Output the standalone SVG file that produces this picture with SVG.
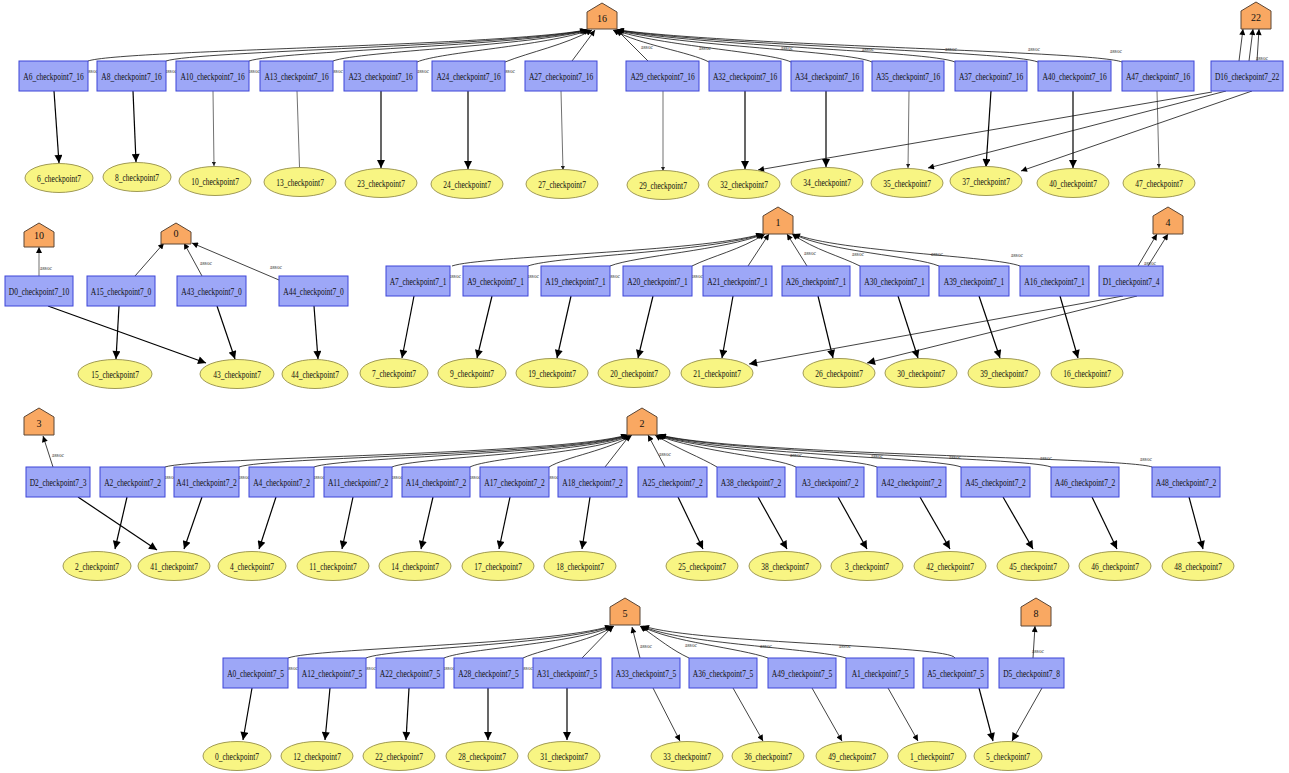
<svg xmlns="http://www.w3.org/2000/svg" width="1289" height="773" viewBox="0 0 1289 773">
<style>
.box{fill:#9DA7F7;stroke:#3C44D8;stroke-width:1}
.ell{fill:#F8F583;stroke:#A09A55;stroke-width:1}
.pent{fill:#F9A862;stroke:#5B4636;stroke-width:1}
text{font-family:"Liberation Serif","Times New Roman",serif;fill:#111;text-anchor:middle}
.l{font-size:11px;transform-box:fill-box;transform-origin:center;transform:scaleX(0.68)}
.p{font-size:10px}
.as{font-size:5.5px;fill:#333}
.e{fill:none;stroke:#000;stroke-width:1.2}
.t{fill:none;stroke:#333;stroke-width:0.7}
.u{fill:none;stroke:#111;stroke-width:0.8}
</style>
<defs>
<marker id="big" viewBox="0 0 10 10" refX="10" refY="5" markerUnits="userSpaceOnUse" markerWidth="9" markerHeight="8" orient="auto"><path d="M0,0 L10,5 L0,10 z" fill="#000"/></marker>
<marker id="sm" viewBox="0 0 10 10" refX="10" refY="5" markerUnits="userSpaceOnUse" markerWidth="4" markerHeight="4" orient="auto"><path d="M0,0 L10,5 L0,10 z" fill="#222"/></marker>
<marker id="up" viewBox="0 0 10 10" refX="10" refY="5" markerUnits="userSpaceOnUse" markerWidth="7" markerHeight="6" orient="auto"><path d="M0,0 L10,5 L0,10 z" fill="#000"/></marker>
</defs>
<rect width="1289" height="773" fill="#fff"/>

<g id="connectors">
<path class="u" marker-end="url(#up)" d="M88,61 C120,50 500,46 586,30"/>
<path class="u" marker-end="url(#up)" d="M166,61 C196,51 510,46 587,30"/>
<path class="u" marker-end="url(#up)" d="M249,61 C278,51 520,46 588,30"/>
<path class="u" marker-end="url(#up)" d="M333,61 C360,51 530,46 589,30"/>
<path class="u" marker-end="url(#up)" d="M417,62 C440,52 545,46 590,30"/>
<path class="u" marker-end="url(#up)" d="M505,62 C530,52 565,45 592,30"/>
<path class="u" marker-end="url(#up)" d="M572,61 L595,30"/>
<path class="u" marker-end="url(#up)" d="M648,61 L617,30"/>
<path class="u" marker-end="url(#up)" d="M709,62 C690,52 640,45 613,30"/>
<path class="u" marker-end="url(#up)" d="M791,62 C770,52 660,46 614,30"/>
<path class="u" marker-end="url(#up)" d="M872,62 C850,51 680,46 615,30"/>
<path class="u" marker-end="url(#up)" d="M955,62 C930,51 700,46 616,30"/>
<path class="u" marker-end="url(#up)" d="M1038,62 C1010,51 720,46 617,30"/>
<path class="u" marker-end="url(#up)" d="M1122,62 C1095,51 740,46 618,30"/>
<path class="u" marker-end="url(#up)" d="M1239,61 L1243,29"/>
<path class="u" marker-end="url(#up)" d="M1249,61 L1253,29"/>
<path class="u" marker-end="url(#up)" d="M1257,61 L1259,29"/>
<path class="e" marker-end="url(#big)" d="M54,91 L59,163"/>
<path class="e" marker-end="url(#big)" d="M133,91 L136,162"/>
<path class="t" marker-end="url(#sm)" d="M213,91 L214,166"/>
<path class="t" marker-end="url(#sm)" d="M297,91 L300,182"/>
<path class="e" marker-end="url(#big)" d="M381,91 L381,168"/>
<path class="e" marker-end="url(#big)" d="M468,91 L468,169"/>
<path class="t" marker-end="url(#sm)" d="M561,91 L563,170"/>
<path class="t" marker-end="url(#sm)" d="M663,91 L663,171"/>
<path class="e" marker-end="url(#big)" d="M745,91 L745,169"/>
<path class="e" marker-end="url(#big)" d="M826,91 L826,167"/>
<path class="t" marker-end="url(#sm)" d="M909,91 L908,168"/>
<path class="e" marker-end="url(#big)" d="M991,91 L986,167"/>
<path class="e" marker-end="url(#big)" d="M1073,91 L1073,168"/>
<path class="t" marker-end="url(#sm)" d="M1157,91 L1159,168"/>
<path class="u" marker-end="url(#up)" d="M1212,92 L758,170"/>
<path class="u" marker-end="url(#up)" d="M1226,91 L928,168"/>
<path class="u" marker-end="url(#up)" d="M1252,91 L1021,171"/>
<path class="u" style="stroke:#888;stroke-width:1.2" marker-end="url(#up)" d="M39,276 L39,247"/>
<path class="e" marker-end="url(#big)" d="M48,306 L206,363"/>
<path class="u" marker-end="url(#up)" d="M135,276 L164,243"/>
<path class="e" marker-end="url(#big)" d="M119,306 L116,359"/>
<path class="u" marker-end="url(#up)" d="M202,276 L184,243"/>
<path class="e" marker-end="url(#big)" d="M217,306 L235,359"/>
<path class="u" marker-end="url(#up)" d="M279,280 L192,243"/>
<path class="e" marker-end="url(#big)" d="M314,306 L318,359"/>
<path class="u" marker-end="url(#up)" d="M452,266 C480,256 700,252 762,234"/>
<path class="u" marker-end="url(#up)" d="M528,266 C555,256 710,252 763,234"/>
<path class="u" marker-end="url(#up)" d="M610,266 C635,256 725,250 764,234"/>
<path class="u" marker-end="url(#up)" d="M692,266 C712,256 740,250 765,234"/>
<path class="u" marker-end="url(#up)" d="M748,266 L769,234"/>
<path class="u" marker-end="url(#up)" d="M807,266 L787,234"/>
<path class="u" marker-end="url(#up)" d="M860,266 C840,256 815,250 792,234"/>
<path class="u" marker-end="url(#up)" d="M939,266 C915,256 830,252 793,234"/>
<path class="u" marker-end="url(#up)" d="M1020,266 C995,256 840,252 794,234"/>
<path class="u" marker-end="url(#up)" d="M1138,266 L1157,234"/>
<path class="u" marker-end="url(#up)" d="M1148,266 L1168,234"/>
<path class="e" marker-end="url(#big)" d="M414,296 L402,358"/>
<path class="e" marker-end="url(#big)" d="M492,296 L477,358"/>
<path class="e" marker-end="url(#big)" d="M571,296 L557,358"/>
<path class="e" marker-end="url(#big)" d="M653,296 L638,358"/>
<path class="e" marker-end="url(#big)" d="M733,296 L722,358"/>
<path class="e" marker-end="url(#big)" d="M818,296 L833,358"/>
<path class="e" marker-end="url(#big)" d="M898,296 L918,358"/>
<path class="e" marker-end="url(#big)" d="M979,296 L1000,358"/>
<path class="e" marker-end="url(#big)" d="M1060,296 L1078,358"/>
<path class="u" marker-end="url(#big)" d="M1123,296 L749,364"/>
<path class="u" marker-end="url(#big)" d="M1137,296 L867,363"/>
<path class="u" marker-end="url(#up)" d="M53,467 L43,436"/>
<path class="e" marker-end="url(#big)" d="M78,497 L157,550"/>
<path class="u" marker-end="url(#up)" d="M165,467 C195,457 560,455 627,435"/>
<path class="u" marker-end="url(#up)" d="M239,467 C265,457 570,455 628,435"/>
<path class="u" marker-end="url(#up)" d="M314,467 C340,457 580,454 629,435"/>
<path class="u" marker-end="url(#up)" d="M392,467 C415,457 590,453 630,435"/>
<path class="u" marker-end="url(#up)" d="M470,467 C490,457 600,452 631,435"/>
<path class="u" marker-end="url(#up)" d="M549,467 C565,457 610,450 632,435"/>
<path class="u" marker-end="url(#up)" d="M605,467 L630,435"/>
<path class="u" marker-end="url(#up)" d="M665,467 L648,435"/>
<path class="u" marker-end="url(#up)" d="M717,467 C700,457 680,450 655,435"/>
<path class="u" marker-end="url(#up)" d="M796,467 C775,457 700,452 656,435"/>
<path class="u" marker-end="url(#up)" d="M877,467 C850,457 710,453 657,435"/>
<path class="u" marker-end="url(#up)" d="M961,467 C935,457 720,454 658,435"/>
<path class="u" marker-end="url(#up)" d="M1051,467 C1025,457 730,454 659,435"/>
<path class="u" marker-end="url(#up)" d="M1152,467 C1125,457 740,455 660,435"/>
<path class="e" marker-end="url(#big)" d="M127,497 L115,549"/>
<path class="e" marker-end="url(#big)" d="M202,497 L184,549"/>
<path class="e" marker-end="url(#big)" d="M276,497 L259,549"/>
<path class="e" marker-end="url(#big)" d="M353,497 L342,549"/>
<path class="e" marker-end="url(#big)" d="M433,497 L421,549"/>
<path class="e" marker-end="url(#big)" d="M510,497 L499,549"/>
<path class="e" marker-end="url(#big)" d="M590,497 L582,549"/>
<path class="e" marker-end="url(#big)" d="M678,497 L703,549"/>
<path class="e" marker-end="url(#big)" d="M758,497 L787,549"/>
<path class="e" marker-end="url(#big)" d="M838,497 L867,549"/>
<path class="e" marker-end="url(#big)" d="M920,497 L950,549"/>
<path class="e" marker-end="url(#big)" d="M1003,497 L1033,549"/>
<path class="e" marker-end="url(#big)" d="M1092,497 L1117,549"/>
<path class="e" marker-end="url(#big)" d="M1189,497 L1203,549"/>
<path class="u" marker-end="url(#up)" d="M288,658 C315,648 550,645 611,626"/>
<path class="u" marker-end="url(#up)" d="M366,658 C390,648 560,645 612,626"/>
<path class="u" marker-end="url(#up)" d="M444,658 C468,648 575,644 613,626"/>
<path class="u" marker-end="url(#up)" d="M523,658 C545,648 590,642 614,626"/>
<path class="u" marker-end="url(#up)" d="M582,658 L613,626"/>
<path class="u" marker-end="url(#up)" d="M640,658 L632,627"/>
<path class="u" marker-end="url(#up)" d="M689,658 C672,650 660,640 640,626"/>
<path class="u" marker-end="url(#up)" d="M768,658 C740,648 670,642 641,626"/>
<path class="u" marker-end="url(#up)" d="M846,658 C815,648 680,644 642,626"/>
<path class="u" marker-end="url(#up)" d="M955,658 C950,645 700,644 643,626"/>
<path class="u" marker-end="url(#up)" d="M1033,658 L1035,626"/>
<path class="e" marker-end="url(#big)" d="M252,688 L243,740"/>
<path class="e" marker-end="url(#big)" d="M330,688 L325,740"/>
<path class="e" marker-end="url(#big)" d="M409,688 L406,740"/>
<path class="e" marker-end="url(#big)" d="M488,688 L488,740"/>
<path class="e" marker-end="url(#big)" d="M567,688 L567,740"/>
<path class="u" marker-end="url(#up)" d="M653,688 L680,741"/>
<path class="u" marker-end="url(#up)" d="M733,688 L763,741"/>
<path class="u" marker-end="url(#up)" d="M812,688 L842,741"/>
<path class="u" marker-end="url(#up)" d="M888,688 L918,741"/>
<path class="e" marker-end="url(#big)" d="M979,688 L993,741"/>
<path class="u" marker-end="url(#big)" d="M1042,688 L1012,741"/>
<g class="lbls">
<text class="as" x="92" y="73">assoc</text><text class="as" x="171" y="73">assoc</text><text class="as" x="254" y="73">assoc</text><text class="as" x="337" y="73">assoc</text><text class="as" x="423" y="73">assoc</text><text class="as" x="509" y="73">assoc</text><text class="as" x="578" y="65">assoc</text><text class="as" x="647" y="49">assoc</text><text class="as" x="705" y="50">assoc</text><text class="as" x="787" y="50">assoc</text><text class="as" x="868" y="51">assoc</text><text class="as" x="951" y="51">assoc</text><text class="as" x="1034" y="51">assoc</text><text class="as" x="1116" y="53">assoc</text><text class="as" x="1262" y="60">assoc</text>
<text class="as" x="46" y="270">assoc</text><text class="as" x="141" y="282">assoc</text><text class="as" x="206" y="265">assoc</text><text class="as" x="276" y="269">assoc</text><text class="as" x="455" y="278">assoc</text><text class="as" x="533" y="278">assoc</text><text class="as" x="614" y="278">assoc</text><text class="as" x="697" y="278">assoc</text><text class="as" x="810" y="255">assoc</text><text class="as" x="858" y="256">assoc</text><text class="as" x="937" y="256">assoc</text><text class="as" x="1017" y="257">assoc</text><text class="as" x="1150" y="265">assoc</text>
<text class="as" x="58" y="457">assoc</text><text class="as" x="170" y="479">assoc</text><text class="as" x="244" y="479">assoc</text><text class="as" x="319" y="479">assoc</text><text class="as" x="397" y="479">assoc</text><text class="as" x="475" y="479">assoc</text><text class="as" x="553" y="479">assoc</text><text class="as" x="613" y="472">assoc</text><text class="as" x="665" y="456">assoc</text><text class="as" x="796" y="457">assoc</text><text class="as" x="877" y="458">assoc</text><text class="as" x="955" y="459">assoc</text><text class="as" x="1046" y="460">assoc</text><text class="as" x="1146" y="461">assoc</text>
<text class="as" x="292" y="670">assoc</text><text class="as" x="370" y="670">assoc</text><text class="as" x="449" y="670">assoc</text><text class="as" x="527" y="670">assoc</text><text class="as" x="590" y="663">assoc</text><text class="as" x="646" y="648">assoc</text><text class="as" x="691" y="647">assoc</text><text class="as" x="766" y="648">assoc</text><text class="as" x="845" y="648">assoc</text><text class="as" x="1038" y="653">assoc</text>
</g>
</g>

<g id="n16"><path class="pent" d="M602,3 L617,12 L617,29 L587,29 L587,12 Z"/><text class="p" x="602" y="22">16</text></g>
<g id="n22"><path class="pent" d="M1256,2 L1271,11 L1271,29 L1241,29 L1241,11 Z"/><text class="p" x="1256" y="21">22</text></g>
<g id="n10"><path class="pent" d="M39,223 L54,232 L54,247 L24,247 L24,232 Z"/><text class="p" x="39" y="239">10</text></g>
<g id="n0"><path class="pent" d="M176,223 L191,232 L191,244 L161,244 L161,232 Z"/><text class="p" x="176" y="237">0</text></g>
<g id="n1"><path class="pent" d="M778,207 L793,216 L793,234 L763,234 L763,216 Z"/><text class="p" x="778" y="226">1</text></g>
<g id="n4"><path class="pent" d="M1168,207 L1183,216 L1183,234 L1153,234 L1153,216 Z"/><text class="p" x="1168" y="226">4</text></g>
<g id="n3"><path class="pent" d="M39,408 L54,417 L54,435 L24,435 L24,417 Z"/><text class="p" x="39" y="427">3</text></g>
<g id="n2"><path class="pent" d="M642,408 L657,417 L657,435 L627,435 L627,417 Z"/><text class="p" x="642" y="427">2</text></g>
<g id="n5"><path class="pent" d="M625,598 L640,607 L640,625 L610,625 L610,607 Z"/><text class="p" x="625" y="617">5</text></g>
<g id="n8"><path class="pent" d="M1036,598 L1051,607 L1051,626 L1021,626 L1021,607 Z"/><text class="p" x="1036" y="617">8</text></g>

<g id="A6_16"><rect class="box" x="19" y="61" width="69" height="30"/><text class="l" x="53.5" y="80">A6_checkpoint7_16</text></g>
<g id="A8_16"><rect class="box" x="97" y="61" width="69" height="30"/><text class="l" x="131.5" y="80">A8_checkpoint7_16</text></g>
<g id="A10_16"><rect class="box" x="176" y="61" width="73" height="30"/><text class="l" x="212.5" y="80">A10_checkpoint7_16</text></g>
<g id="A13_16"><rect class="box" x="260" y="61" width="73" height="30"/><text class="l" x="296.5" y="80">A13_checkpoint7_16</text></g>
<g id="A23_16"><rect class="box" x="344" y="61" width="73" height="30"/><text class="l" x="380.5" y="80">A23_checkpoint7_16</text></g>
<g id="A24_16"><rect class="box" x="432" y="61" width="73" height="30"/><text class="l" x="468.5" y="80">A24_checkpoint7_16</text></g>
<g id="A27_16"><rect class="box" x="525" y="61" width="72" height="30"/><text class="l" x="561" y="80">A27_checkpoint7_16</text></g>
<g id="A29_16"><rect class="box" x="626" y="61" width="73" height="30"/><text class="l" x="662.5" y="80">A29_checkpoint7_16</text></g>
<g id="A32_16"><rect class="box" x="709" y="61" width="72" height="30"/><text class="l" x="745" y="80">A32_checkpoint7_16</text></g>
<g id="A34_16"><rect class="box" x="791" y="61" width="72" height="30"/><text class="l" x="827" y="80">A34_checkpoint7_16</text></g>
<g id="A35_16"><rect class="box" x="872" y="61" width="72" height="30"/><text class="l" x="908" y="80">A35_checkpoint7_16</text></g>
<g id="A37_16"><rect class="box" x="955" y="61" width="72" height="30"/><text class="l" x="991" y="80">A37_checkpoint7_16</text></g>
<g id="A40_16"><rect class="box" x="1038" y="61" width="73" height="30"/><text class="l" x="1074.5" y="80">A40_checkpoint7_16</text></g>
<g id="A47_16"><rect class="box" x="1122" y="61" width="72" height="30"/><text class="l" x="1158" y="80">A47_checkpoint7_16</text></g>
<g id="D16_22"><rect class="box" x="1211" y="61" width="72" height="30"/><text class="l" x="1247" y="80">D16_checkpoint7_22</text></g>

<g id="c6"><ellipse class="ell" cx="59" cy="178" rx="34" ry="14.5"/><text class="l" x="59" y="182">6_checkpoint7</text></g>
<g id="c8"><ellipse class="ell" cx="137" cy="177" rx="34" ry="14.5"/><text class="l" x="137" y="181">8_checkpoint7</text></g>
<g id="c10"><ellipse class="ell" cx="215" cy="181" rx="36" ry="14.5"/><text class="l" x="215" y="185">10_checkpoint7</text></g>
<g id="c13"><ellipse class="ell" cx="300" cy="182" rx="36" ry="14.5"/><text class="l" x="300" y="186">13_checkpoint7</text></g>
<g id="c23"><ellipse class="ell" cx="381" cy="183" rx="36" ry="14.5"/><text class="l" x="381" y="187">23_checkpoint7</text></g>
<g id="c24"><ellipse class="ell" cx="467" cy="184" rx="36" ry="14.5"/><text class="l" x="467" y="188">24_checkpoint7</text></g>
<g id="c27"><ellipse class="ell" cx="562" cy="184" rx="36" ry="14.5"/><text class="l" x="562" y="188">27_checkpoint7</text></g>
<g id="c29"><ellipse class="ell" cx="663" cy="185" rx="36" ry="14.5"/><text class="l" x="663" y="189">29_checkpoint7</text></g>
<g id="c32"><ellipse class="ell" cx="744" cy="184" rx="36" ry="14.5"/><text class="l" x="744" y="188">32_checkpoint7</text></g>
<g id="c34"><ellipse class="ell" cx="827" cy="182" rx="36" ry="14.5"/><text class="l" x="827" y="186">34_checkpoint7</text></g>
<g id="c35"><ellipse class="ell" cx="907" cy="183" rx="36" ry="14.5"/><text class="l" x="907" y="187">35_checkpoint7</text></g>
<g id="c37"><ellipse class="ell" cx="986" cy="181" rx="36" ry="14.5"/><text class="l" x="986" y="185">37_checkpoint7</text></g>
<g id="c40"><ellipse class="ell" cx="1073" cy="183" rx="36" ry="14.5"/><text class="l" x="1073" y="187">40_checkpoint7</text></g>
<g id="c47"><ellipse class="ell" cx="1159" cy="183" rx="36" ry="14.5"/><text class="l" x="1159" y="187">47_checkpoint7</text></g>

<g id="D0_10"><rect class="box" x="5" y="276" width="68" height="30"/><text class="l" x="39" y="295">D0_checkpoint7_10</text></g>
<g id="A15_0"><rect class="box" x="87" y="276" width="68" height="30"/><text class="l" x="121" y="295">A15_checkpoint7_0</text></g>
<g id="A43_0"><rect class="box" x="177" y="276" width="69" height="30"/><text class="l" x="211.5" y="295">A43_checkpoint7_0</text></g>
<g id="A44_0"><rect class="box" x="279" y="276" width="69" height="30"/><text class="l" x="313.5" y="295">A44_checkpoint7_0</text></g>
<g id="A7_1"><rect class="box" x="386" y="266" width="64" height="30"/><text class="l" x="418" y="285">A7_checkpoint7_1</text></g>
<g id="A9_1"><rect class="box" x="463" y="266" width="65" height="30"/><text class="l" x="495.5" y="285">A9_checkpoint7_1</text></g>
<g id="A19_1"><rect class="box" x="541" y="266" width="69" height="30"/><text class="l" x="575.5" y="285">A19_checkpoint7_1</text></g>
<g id="A20_1"><rect class="box" x="623" y="266" width="69" height="30"/><text class="l" x="657.5" y="285">A20_checkpoint7_1</text></g>
<g id="A21_1"><rect class="box" x="703" y="266" width="69" height="30"/><text class="l" x="737.5" y="285">A21_checkpoint7_1</text></g>
<g id="A26_1"><rect class="box" x="782" y="266" width="68" height="30"/><text class="l" x="816" y="285">A26_checkpoint7_1</text></g>
<g id="A30_1"><rect class="box" x="860" y="266" width="69" height="30"/><text class="l" x="894.5" y="285">A30_checkpoint7_1</text></g>
<g id="A39_1"><rect class="box" x="939" y="266" width="70" height="30"/><text class="l" x="974" y="285">A39_checkpoint7_1</text></g>
<g id="A16_1"><rect class="box" x="1020" y="266" width="69" height="30"/><text class="l" x="1054.5" y="285">A16_checkpoint7_1</text></g>
<g id="D1_4"><rect class="box" x="1099" y="266" width="64" height="30"/><text class="l" x="1131" y="285">D1_checkpoint7_4</text></g>

<g id="c15"><ellipse class="ell" cx="115" cy="374" rx="37" ry="14.5"/><text class="l" x="115" y="378">15_checkpoint7</text></g>
<g id="c43"><ellipse class="ell" cx="237" cy="374" rx="37" ry="14.5"/><text class="l" x="237" y="378">43_checkpoint7</text></g>
<g id="c44"><ellipse class="ell" cx="315" cy="374" rx="33" ry="14.5"/><text class="l" x="315" y="378">44_checkpoint7</text></g>
<g id="c7"><ellipse class="ell" cx="394" cy="373" rx="34" ry="14.5"/><text class="l" x="394" y="377">7_checkpoint7</text></g>
<g id="c9"><ellipse class="ell" cx="472" cy="373" rx="34" ry="14.5"/><text class="l" x="472" y="377">9_checkpoint7</text></g>
<g id="c19"><ellipse class="ell" cx="552" cy="373" rx="36" ry="14.5"/><text class="l" x="552" y="377">19_checkpoint7</text></g>
<g id="c20"><ellipse class="ell" cx="634" cy="373" rx="36" ry="14.5"/><text class="l" x="634" y="377">20_checkpoint7</text></g>
<g id="c21"><ellipse class="ell" cx="717" cy="373" rx="36" ry="14.5"/><text class="l" x="717" y="377">21_checkpoint7</text></g>
<g id="c26"><ellipse class="ell" cx="839" cy="373" rx="36" ry="14.5"/><text class="l" x="839" y="377">26_checkpoint7</text></g>
<g id="c30"><ellipse class="ell" cx="921" cy="373" rx="36" ry="14.5"/><text class="l" x="921" y="377">30_checkpoint7</text></g>
<g id="c39"><ellipse class="ell" cx="1004" cy="373" rx="36" ry="14.5"/><text class="l" x="1004" y="377">39_checkpoint7</text></g>
<g id="c16"><ellipse class="ell" cx="1087" cy="373" rx="36" ry="14.5"/><text class="l" x="1087" y="377">16_checkpoint7</text></g>

<g id="D2_3"><rect class="box" x="26" y="467" width="64" height="30"/><text class="l" x="58" y="486">D2_checkpoint7_3</text></g>
<g id="A2_2"><rect class="box" x="100" y="467" width="65" height="30"/><text class="l" x="132.5" y="486">A2_checkpoint7_2</text></g>
<g id="A41_2"><rect class="box" x="174" y="467" width="65" height="30"/><text class="l" x="206.5" y="486">A41_checkpoint7_2</text></g>
<g id="A4_2"><rect class="box" x="249" y="467" width="65" height="30"/><text class="l" x="281.5" y="486">A4_checkpoint7_2</text></g>
<g id="A11_2"><rect class="box" x="324" y="467" width="68" height="30"/><text class="l" x="358" y="486">A11_checkpoint7_2</text></g>
<g id="A14_2"><rect class="box" x="402" y="467" width="68" height="30"/><text class="l" x="436" y="486">A14_checkpoint7_2</text></g>
<g id="A17_2"><rect class="box" x="480" y="467" width="69" height="30"/><text class="l" x="514.5" y="486">A17_checkpoint7_2</text></g>
<g id="A18_2"><rect class="box" x="558" y="467" width="69" height="30"/><text class="l" x="592.5" y="486">A18_checkpoint7_2</text></g>
<g id="A25_2"><rect class="box" x="638" y="467" width="69" height="30"/><text class="l" x="672.5" y="486">A25_checkpoint7_2</text></g>
<g id="A38_2"><rect class="box" x="717" y="467" width="68" height="30"/><text class="l" x="751" y="486">A38_checkpoint7_2</text></g>
<g id="A3_2"><rect class="box" x="796" y="467" width="68" height="30"/><text class="l" x="830" y="486">A3_checkpoint7_2</text></g>
<g id="A42_2"><rect class="box" x="877" y="467" width="69" height="30"/><text class="l" x="911.5" y="486">A42_checkpoint7_2</text></g>
<g id="A45_2"><rect class="box" x="961" y="467" width="69" height="30"/><text class="l" x="995.5" y="486">A45_checkpoint7_2</text></g>
<g id="A46_2"><rect class="box" x="1051" y="467" width="68" height="30"/><text class="l" x="1085" y="486">A46_checkpoint7_2</text></g>
<g id="A48_2"><rect class="box" x="1152" y="467" width="68" height="30"/><text class="l" x="1186" y="486">A48_checkpoint7_2</text></g>

<g id="c2"><ellipse class="ell" cx="97" cy="566" rx="34" ry="14.5"/><text class="l" x="97" y="570">2_checkpoint7</text></g>
<g id="c41"><ellipse class="ell" cx="174" cy="566" rx="36" ry="14.5"/><text class="l" x="174" y="570">41_checkpoint7</text></g>
<g id="c4"><ellipse class="ell" cx="252" cy="566" rx="34" ry="14.5"/><text class="l" x="252" y="570">4_checkpoint7</text></g>
<g id="c11"><ellipse class="ell" cx="333" cy="566" rx="36" ry="14.5"/><text class="l" x="333" y="570">11_checkpoint7</text></g>
<g id="c14"><ellipse class="ell" cx="415" cy="566" rx="36" ry="14.5"/><text class="l" x="415" y="570">14_checkpoint7</text></g>
<g id="c17"><ellipse class="ell" cx="498" cy="566" rx="36" ry="14.5"/><text class="l" x="498" y="570">17_checkpoint7</text></g>
<g id="c18"><ellipse class="ell" cx="580" cy="566" rx="36" ry="14.5"/><text class="l" x="580" y="570">18_checkpoint7</text></g>
<g id="c25"><ellipse class="ell" cx="702" cy="566" rx="36" ry="14.5"/><text class="l" x="702" y="570">25_checkpoint7</text></g>
<g id="c38"><ellipse class="ell" cx="785" cy="566" rx="36" ry="14.5"/><text class="l" x="785" y="570">38_checkpoint7</text></g>
<g id="c3"><ellipse class="ell" cx="867" cy="566" rx="36" ry="14.5"/><text class="l" x="867" y="570">3_checkpoint7</text></g>
<g id="c42"><ellipse class="ell" cx="950" cy="566" rx="36" ry="14.5"/><text class="l" x="950" y="570">42_checkpoint7</text></g>
<g id="c45"><ellipse class="ell" cx="1033" cy="566" rx="36" ry="14.5"/><text class="l" x="1033" y="570">45_checkpoint7</text></g>
<g id="c46"><ellipse class="ell" cx="1115" cy="566" rx="36" ry="14.5"/><text class="l" x="1115" y="570">46_checkpoint7</text></g>
<g id="c48"><ellipse class="ell" cx="1198" cy="566" rx="36" ry="14.5"/><text class="l" x="1198" y="570">48_checkpoint7</text></g>

<g id="A0_5"><rect class="box" x="223" y="658" width="65" height="30"/><text class="l" x="255.5" y="677">A0_checkpoint7_5</text></g>
<g id="A12_5"><rect class="box" x="298" y="658" width="68" height="30"/><text class="l" x="332" y="677">A12_checkpoint7_5</text></g>
<g id="A22_5"><rect class="box" x="376" y="658" width="68" height="30"/><text class="l" x="410" y="677">A22_checkpoint7_5</text></g>
<g id="A28_5"><rect class="box" x="454" y="658" width="69" height="30"/><text class="l" x="488.5" y="677">A28_checkpoint7_5</text></g>
<g id="A31_5"><rect class="box" x="533" y="658" width="68" height="30"/><text class="l" x="567" y="677">A31_checkpoint7_5</text></g>
<g id="A33_5"><rect class="box" x="612" y="658" width="68" height="30"/><text class="l" x="646" y="677">A33_checkpoint7_5</text></g>
<g id="A36_5"><rect class="box" x="689" y="658" width="68" height="30"/><text class="l" x="723" y="677">A36_checkpoint7_5</text></g>
<g id="A49_5"><rect class="box" x="768" y="658" width="68" height="30"/><text class="l" x="802" y="677">A49_checkpoint7_5</text></g>
<g id="A1_5"><rect class="box" x="846" y="658" width="68" height="30"/><text class="l" x="880" y="677">A1_checkpoint7_5</text></g>
<g id="A5_5"><rect class="box" x="923" y="658" width="65" height="30"/><text class="l" x="955.5" y="677">A5_checkpoint7_5</text></g>
<g id="D5_8"><rect class="box" x="999" y="658" width="65" height="30"/><text class="l" x="1031.5" y="677">D5_checkpoint7_8</text></g>

<g id="c0"><ellipse class="ell" cx="237" cy="756" rx="34" ry="14.5"/><text class="l" x="237" y="760">0_checkpoint7</text></g>
<g id="c12"><ellipse class="ell" cx="317" cy="756" rx="36" ry="14.5"/><text class="l" x="317" y="760">12_checkpoint7</text></g>
<g id="c22"><ellipse class="ell" cx="399" cy="756" rx="36" ry="14.5"/><text class="l" x="399" y="760">22_checkpoint7</text></g>
<g id="c28"><ellipse class="ell" cx="482" cy="756" rx="36" ry="14.5"/><text class="l" x="482" y="760">28_checkpoint7</text></g>
<g id="c31"><ellipse class="ell" cx="564" cy="756" rx="36" ry="14.5"/><text class="l" x="564" y="760">31_checkpoint7</text></g>
<g id="c33"><ellipse class="ell" cx="687" cy="756" rx="36" ry="14.5"/><text class="l" x="687" y="760">33_checkpoint7</text></g>
<g id="c36"><ellipse class="ell" cx="768" cy="756" rx="36" ry="14.5"/><text class="l" x="768" y="760">36_checkpoint7</text></g>
<g id="c49"><ellipse class="ell" cx="852" cy="756" rx="36" ry="14.5"/><text class="l" x="852" y="760">49_checkpoint7</text></g>
<g id="c1"><ellipse class="ell" cx="932" cy="756" rx="34" ry="14.5"/><text class="l" x="932" y="760">1_checkpoint7</text></g>
<g id="c5"><ellipse class="ell" cx="1008" cy="756" rx="34" ry="14.5"/><text class="l" x="1008" y="760">5_checkpoint7</text></g>
</svg>
